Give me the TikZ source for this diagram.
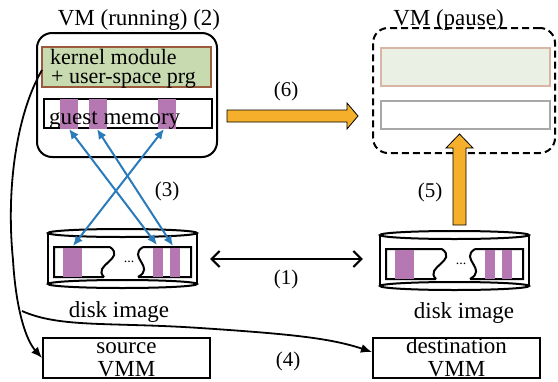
\documentclass[tikz,border=0pt]{standalone}
\usepackage{fontspec}
\setmainfont{Liberation Serif}
\usetikzlibrary{arrows.meta}
\definecolor{orng}{HTML}{F5AF2B}
\definecolor{purp}{HTML}{B678B2}
\definecolor{blu}{HTML}{2B7BBA}
\definecolor{kgreen}{HTML}{C8DAB0}
\definecolor{kbrown}{HTML}{9C5A3C}
\definecolor{pgreen}{HTML}{EAF0E4}
\definecolor{pbrown}{HTML}{D9B5A5}
\definecolor{pgray}{HTML}{A8A8A8}
\tikzset{
  bx/.style={draw, line width=2pt, inner sep=0pt},
  txt/.style={anchor=base, inner sep=0pt, font=\fontsize{23}{17}\selectfont},
  ktxt/.style={anchor=base west, inner sep=0pt, font=\fontsize{22}{17}\selectfont},
  lbl/.style={anchor=base, inner sep=0pt, font=\fontsize{21}{21}\selectfont},
  bluearr/.style={blu, line width=2pt, {Latex[length=10pt,width=9pt]}-{Latex[length=10pt,width=9pt]}},
  blackarr/.style={line width=1.8pt, -{Latex[length=11pt,width=9pt]}},
  orarr/.style={fill=orng, draw=black, line width=0.8pt},
  diskpic/.pic={
    \draw[line width=2pt] (-6,-14) -- (-6,37);
    \draw[line width=2pt] (143,-14) -- (143,37);
    \draw[line width=2pt] (68.5,-14) ellipse [x radius=74.5pt, y radius=4pt];
    \draw[line width=2pt] (68.5,37) ellipse [x radius=74.5pt, y radius=4pt];
    \draw[line width=2pt] (56,0) -- (0,0) -- (0,30) -- (50,30)
      (56,0) .. controls (72,12) and (38,18) .. (50,30);
    \draw[line width=2pt] (89,0) -- (137,0) -- (137,30) -- (84,30)
      (89,0) .. controls (73,10) and (102,20) .. (84,30);
    \fill[purp] (9,0.5) rectangle (28,29.5);
    \fill[purp] (99,0.5) rectangle (109,29.5);
    \fill[purp] (116,0.5) rectangle (126,29.5);
    \node[anchor=base, inner sep=0pt, font=\fontsize{14}{14}\selectfont] at (75,15) {...};
  }
}
\begin{document}
\begin{tikzpicture}[x=1pt,y=-1pt]
\useasboundingbox (0,0) rectangle (558,381);

% running VM
\node[txt] (trun) at (139,25) {VM (running) (2)};
\node[bx, rounded corners=15pt, minimum width=180pt, minimum height=124pt] (run) at (127,95) {};
\node[bx, draw=kbrown, fill=kgreen, minimum width=169pt, minimum height=40pt] (km) at (126.5,67) {};
\node[ktxt] (kmt1) at (50,64) {kernel module};
\node[ktxt] (kmt2) at (51,83) {+ user-space prg};
\node[bx, minimum width=168pt, minimum height=29pt] (gm) at (128,113.5) {};
\fill[purp] (60,98.5) rectangle (78,128.5);
\fill[purp] (89,98.5) rectangle (107,128.5);
\fill[purp] (158,98.5) rectangle (176,128.5);
\node[txt, anchor=base west] (gmt) at (49,124) {guest memory};

% paused VM
\node[txt] (tpause) at (448.5,25) {VM (pause)};
\node[bx, dash pattern=on 7pt off 4pt, rounded corners=15pt, minimum width=182pt, minimum height=125pt] (pause) at (464,90.5) {};
\node[bx, draw=pbrown, fill=pgreen, minimum width=169pt, minimum height=38pt] (pg) at (465.5,67) {};
\node[bx, draw=pgray, minimum width=169pt, minimum height=28pt] (pw) at (465.5,115) {};

% disks
\pic at (54,247) {diskpic};
\pic at (386,249) {diskpic};
\node[minimum width=148pt, minimum height=59pt] (diskL) at (122,259) {};
\node[minimum width=150pt, minimum height=59pt] (diskR) at (455,259) {};
\node[txt] (dlt) at (119,317) {disk image};
\node[txt] (drt) at (464,318) {disk image};

% VMMs
\node[bx, minimum width=167pt, minimum height=40pt] (src) at (126.5,358) {};
\node[txt] (srct1) at (126.5,353) {source};
\node[txt] (srct2) at (126.5,376) {VMM};
\node[bx, minimum width=167pt, minimum height=40pt] (dst) at (456.5,358) {};
\node[txt] (dstt1) at (456.5,353) {destination};
\node[txt] (dstt2) at (456.5,376) {VMM};

% (1)
\draw[line width=2pt, {Straight Barb[length=8pt,width=16pt]}-{Straight Barb[length=8pt,width=16pt]}, shorten <=14pt, shorten >=17pt] (diskL.east) -- (diskR.west);
\node[lbl] (l1) at (286,284) {(1)};

% (3) blue arrows
\coordinate (g1) at (69,129);
\coordinate (g2) at (97,129);
\coordinate (g3) at (164,129);
\coordinate (d1) at (157,245);
\coordinate (d2) at (173,246);
\coordinate (d3) at (73,246);
\draw[bluearr] (g1) -- (d1);
\draw[bluearr] (g2) -- (d2);
\draw[bluearr] (g3) -- (d3);
\node[lbl] (l3) at (167,196) {(3)};

% (6) orange arrow
\draw[orarr] (227,110) -- (347,110) -- (347,103) -- (358,116) -- (347,129) -- (347,122) -- (227,122) -- cycle;
\node[lbl] (l6) at (286,96) {(6)};

% (5) orange arrow
\draw[orarr] (453,225) -- (453,148) -- (446,148) -- (459.5,134) -- (473,148) -- (466,148) -- (466,225) -- cycle;
\node[lbl] (l5) at (430,197) {(5)};

% (4) curves
\coordinate (kmw) at (42,70);
\draw[blackarr] (kmw) .. controls (16,115) and (6,190) .. (13,260) .. controls (16,310) and (26,340) .. (src.west);
\coordinate (br) at (22,311);
\draw[blackarr] (br) .. controls (60,328) and (110,322) .. (200,328) .. controls (290,334) and (330,338) .. ([yshift=6pt]dst.west);
\node[lbl] (l4) at (288,366) {(4)};
\end{tikzpicture}
\end{document}
